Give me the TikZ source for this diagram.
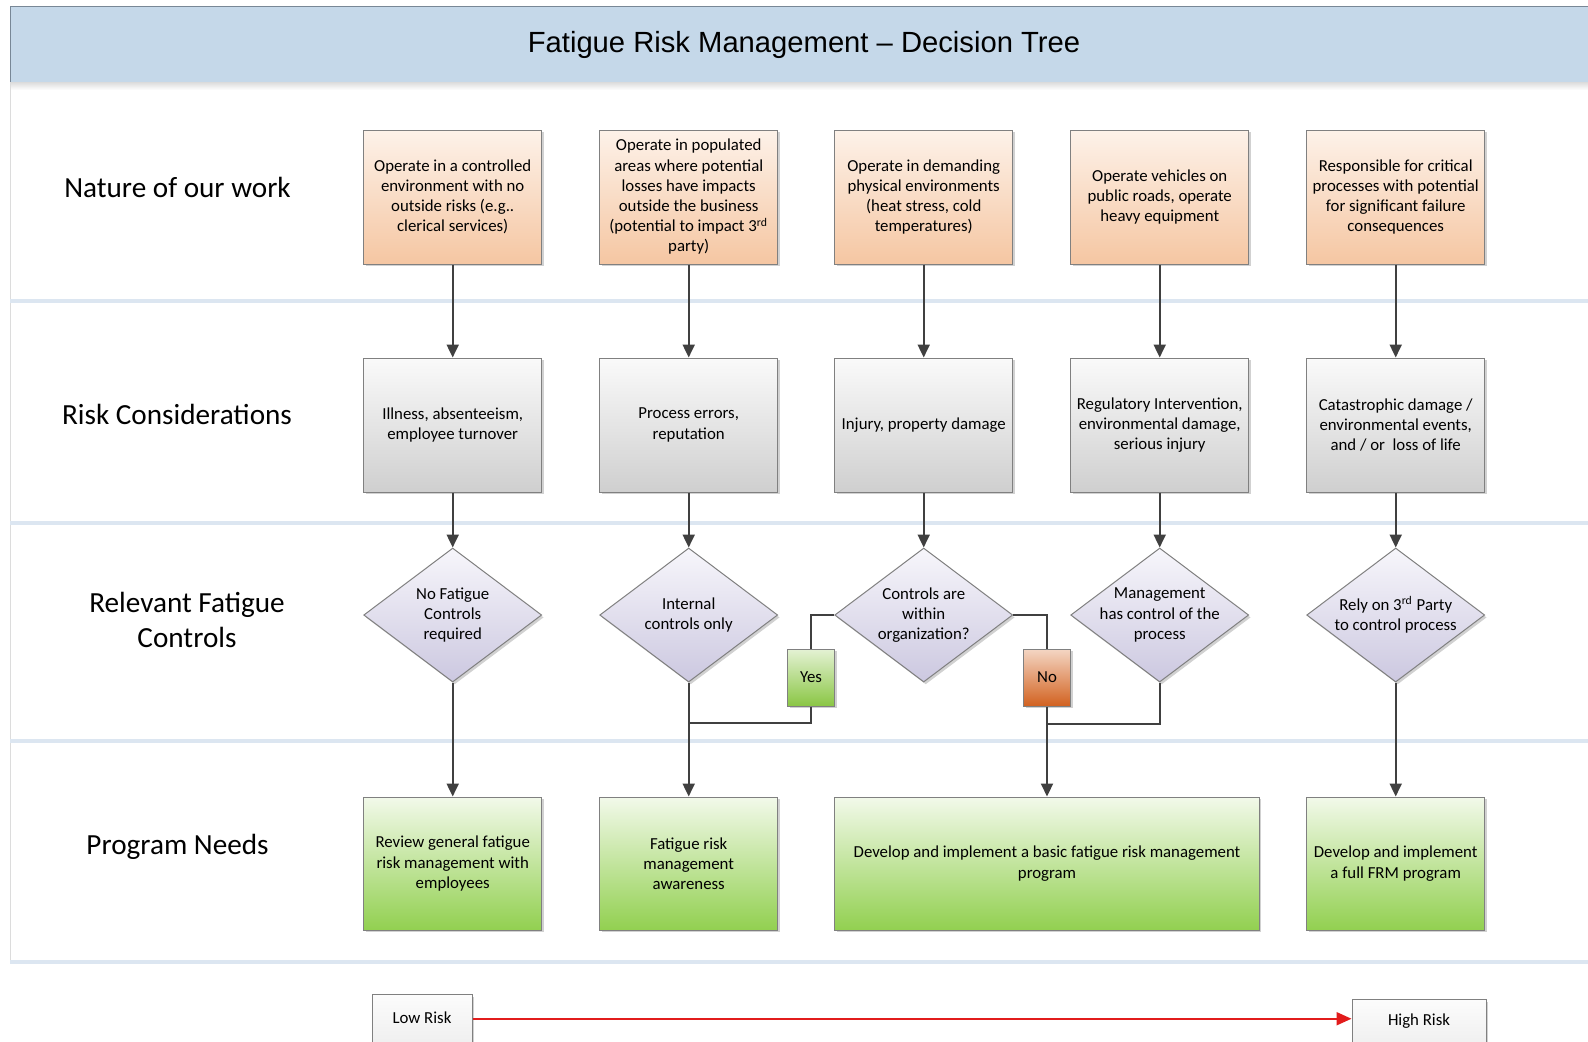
\documentclass[tikz,border=0pt]{standalone}
\usepackage{fontspec}
\setmainfont{Carlito}
\newfontfamily\titlefont{Liberation Sans}
\usetikzlibrary{shapes.geometric,arrows.meta,shadows,calc}

\definecolor{titlebg}{RGB}{197,216,233}
\definecolor{titleline}{RGB}{120,135,150}
\definecolor{lanecol}{RGB}{220,230,241}
\definecolor{leftline}{RGB}{220,220,220}
\definecolor{boxline}{RGB}{128,128,128}
\definecolor{orangeT}{RGB}{253,242,233}
\definecolor{orangeB}{RGB}{245,198,162}
\definecolor{grayT}{RGB}{250,250,250}
\definecolor{grayB}{RGB}{207,207,207}
\definecolor{lavT}{RGB}{247,246,251}
\definecolor{lavB}{RGB}{204,200,224}
\definecolor{greenT}{RGB}{242,249,234}
\definecolor{greenB}{RGB}{146,208,80}
\definecolor{yesT}{RGB}{228,242,212}
\definecolor{yesB}{RGB}{138,198,68}
\definecolor{noT}{RGB}{244,214,196}
\definecolor{noB}{RGB}{210,98,32}
\definecolor{riskT}{RGB}{252,252,252}
\definecolor{riskB}{RGB}{232,232,232}
\definecolor{conn}{RGB}{64,64,64}
\definecolor{redarr}{RGB}{226,28,28}

\begin{document}
\begin{tikzpicture}[x=0.5pt,y=-0.5pt,
  every node/.style={font=\fontsize{8.4}{10.1}\selectfont, align=center},
  shad/.style={drop shadow={shadow xshift=1pt,shadow yshift=-1.2pt,fill=black,opacity=0.18}},
  base/.style={shad, draw=boxline, line width=0.5pt, minimum width=89pt, minimum height=67pt, inner sep=0pt},
  obox/.style={base, top color=orangeT, bottom color=orangeB},
  gbox/.style={base, top color=grayT, bottom color=grayB},
  pbox/.style={base, top color=greenT, bottom color=greenB, minimum height=66.5pt},
  dia/.style={shad, diamond, draw=boxline, line width=0.5pt, minimum width=89pt, minimum height=67pt, inner sep=0pt, top color=lavT, bottom color=lavB},
  dtext/.style={inner sep=0pt},
  yn/.style={shad, draw=boxline, line width=0.5pt, minimum width=23.5pt, minimum height=28.5pt, inner sep=0pt},
  riskbox/.style={shad, draw=boxline, line width=0.5pt, inner sep=0pt, anchor=north, top color=riskT, bottom color=riskB},
  lane/.style={font=\fontsize{14.6}{17.7}\selectfont},
  conn/.style={draw=conn, line width=1pt},
  arr/.style={conn, -{Triangle[width=6pt,length=6.5pt]}},
]
\useasboundingbox (0,0) rectangle (1588,1041);
\clip (0,0) rectangle (1588,1041);
\fill[white] (0,0) rectangle (1588,1041);

% title bar
\shade[top color=black!14, bottom color=white] (10,82) rectangle (1588,90);
\fill[titlebg] (10,6) rectangle (1588,82);
\draw[titleline, line width=0.5pt] (10,82) -- (10,6) -- (1588,6);
\node[font=\titlefont\fontsize{14.6}{17}\selectfont] (title) at (804,45) {Fatigue Risk Management – Decision Tree};

% lane borders
\draw[leftline, line width=0.6pt] (10.5,82) -- (10.5,962);
\foreach \yy in {301,523,741,962} \draw[lanecol, line width=2pt] (10,\yy) -- (1588,\yy);

% lane labels
\node[lane] (l1) at (177.5,187) {Nature of our work};
\node[lane] (l2) at (177,414) {Risk Considerations};
\node[lane] (l3) at (187,620) {Relevant Fatigue\\Controls};
\node[lane] (l4) at (177.5,847) {Program Needs};

% row 1
\node[obox] (o1) at (452.7,197) {Operate in a controlled\\environment with no\\outside risks (e.g..\\clerical services)};
\node[obox] (o2) at (688.7,197) {Operate in populated\\areas where potential\\losses have impacts\\outside the business\\(potential to impact 3\textsuperscript{rd}\\party)};
\node[obox] (o3) at (923.7,197) {Operate in demanding\\physical environments\\(heat stress, cold\\temperatures)};
\node[obox] (o4) at (1159.7,197) {Operate vehicles on\\public roads, operate\\heavy equipment};
\node[obox] (o5) at (1395.7,197) {Responsible for critical\\processes with potential\\for significant failure\\consequences};

% row 2
\node[gbox] (g1) at (452.7,425) {Illness, absenteeism,\\employee turnover};
\node[gbox] (g2) at (688.7,425) {Process errors,\\reputation};
\node[gbox] (g3) at (923.7,425) {Injury, property damage};
\node[gbox] (g4) at (1159.7,425) {Regulatory Intervention,\\environmental damage,\\serious injury};
\node[gbox] (g5) at (1395.7,425) {Catastrophic damage /\\environmental events,\\and / or\ \ loss of life};

% row 3
\node[dia] (d1) at (452.7,615) {};
\node[dia] (d2) at (688.7,615) {};
\node[dia] (d3) at (923.7,615) {};
\node[dia] (d4) at (1159.7,615) {};
\node[dia] (d5) at (1395.7,615) {};
\node[dtext] (d1t) at (d1) {No Fatigue\\Controls\\required};
\node[dtext] (d2t) at (d2) {Internal\\controls only};
\node[dtext] (d3t) at (d3) {Controls are\\within\\organization?};
\node[dtext] (d4t) at (d4) {Management\\has control of the\\process};
\node[dtext] (d5t) at (d5) {Rely on 3\textsuperscript{rd} Party\\to control process};

\node[yn, top color=yesT, bottom color=yesB] (yes) at (811,677.5) {Yes};
\node[yn, top color=noT, bottom color=noB] (no) at (1047,677.5) {No};

% row 4
\node[pbox] (p1) at (452.7,863.5) {Review general fatigue\\risk management with\\employees};
\node[pbox] (p2) at (688.7,863.5) {Fatigue risk\\management\\awareness};
\node[pbox, minimum width=212.2pt] (p3) at (1047,863.5) {Develop and implement a basic fatigue risk management\\program};
\node[pbox] (p5) at (1395.7,863.5) {Develop and implement\\a full FRM program};

% risk scale
\node[riskbox, minimum width=50pt, text height=14.5pt, text depth=23.5pt] (low) at (422,994) {Low Risk};
\node[riskbox, minimum width=67pt, text height=13pt, text depth=23.5pt] (high) at (1419,999) {High Risk};

% connectors
\foreach \c in {1,2,3,4,5} {
  \draw[arr] (o\c) -- (g\c);
  \draw[arr] (g\c) -- (d\c);
}
\draw[arr] (d1) -- (p1);
\draw[arr] (d2) -- (p2);
\draw[arr] (d5) -- (p5);

\coordinate (j1) at (688.7,723);
\coordinate (j2) at (1047,724);
\draw[conn] (d3.west) -| (yes.north);
\draw[conn] (yes.south) |- (j1);
\draw[conn] (d3.east) -| (no.north);
\draw[arr] (no.south) -- (p3.north);
\draw[conn] (d4.south) |- (j2);

\draw[draw=redarr, line width=1pt, -{Triangle[width=6.5pt,length=7.5pt]}] (low.mid east) -- (low.mid east -| high.west);
\end{tikzpicture}
\end{document}
